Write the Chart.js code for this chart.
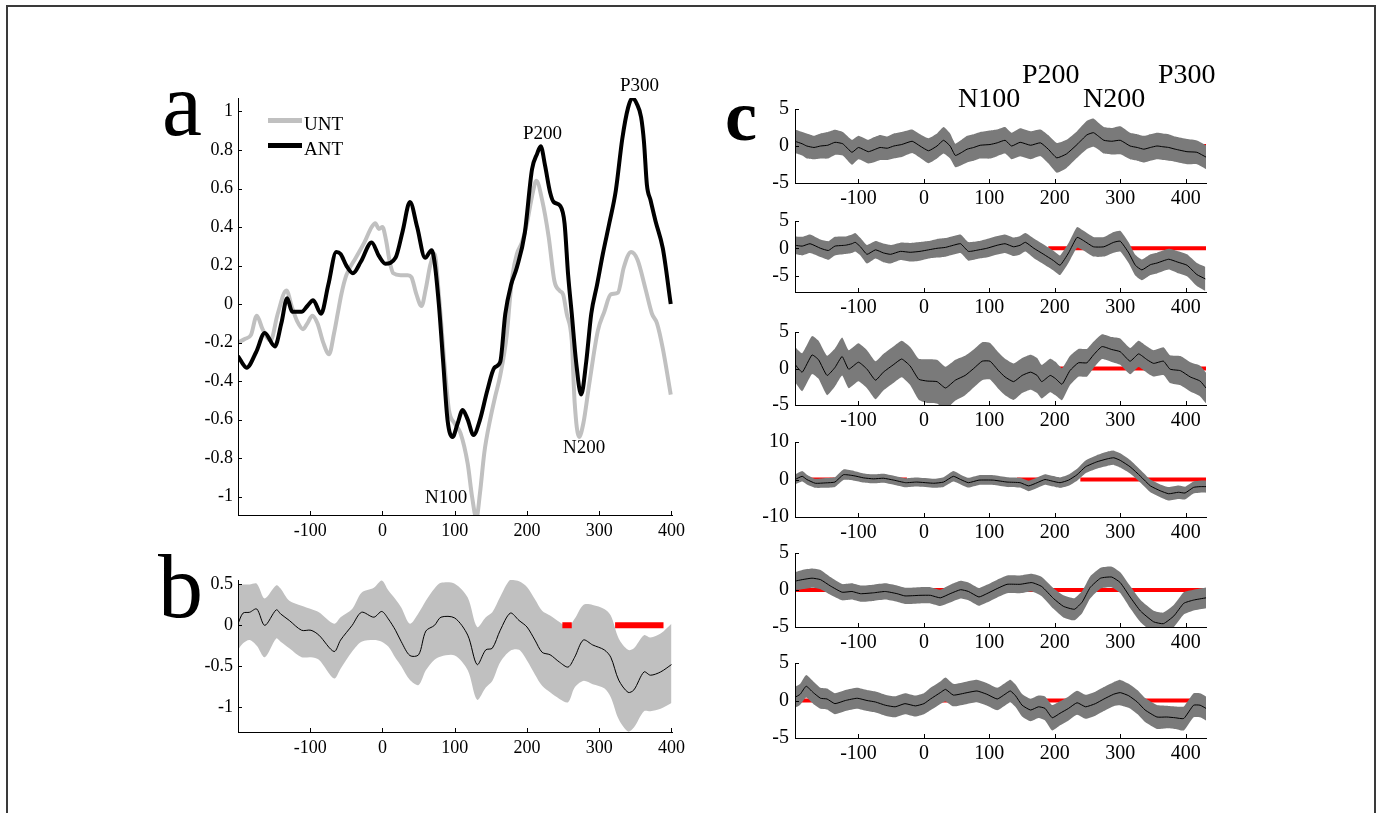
<!DOCTYPE html>
<html><head><meta charset="utf-8">
<script src="https://cdn.jsdelivr.net/npm/chart.js@4/dist/chart.umd.min.js"></script>
<style>
html,body{margin:0;padding:0;background:#fff;}
body{width:1382px;height:813px;overflow:hidden;position:relative;}
.t{position:absolute;line-height:1;white-space:nowrap;color:#000;font-family:"Liberation Serif","Times New Roman",serif;}
</style></head><body>
<div style="position:absolute;left:6px;top:5px;width:1366px;height:840px;border:2px solid #3a3a3a;"></div>
<script>
// ---------------- Panel a : UNT / ANT ----------------
const tUnt = [-200,-190,-182,-174,-166,-155,-145,-133,-125,-118,-110,-104,-97,-90,-82,-74,-67,-62,-57,-50,-37,-25,-15,-10,-5,0,5,10,15,25,35,40,47,54,60,66,72,78,86,92,100,108,118,124,130,135,141,149,156,163,172,177,180,186,193,200,207,213,221,230,238,245,250,255,262,266,272,278,286,298,307,316,326,334,344,353,364,373,380,388,399];
const unt = [-0.2,-0.18,-0.16,-0.06,-0.13,-0.19,-0.05,0.07,-0.02,-0.09,-0.13,-0.1,-0.06,-0.1,-0.2,-0.26,-0.15,-0.05,0.05,0.15,0.24,0.32,0.4,0.42,0.39,0.4,0.33,0.22,0.16,0.15,0.15,0.14,0.05,-0.01,0.08,0.2,0.26,0.05,-0.32,-0.55,-0.62,-0.67,-0.83,-1.0,-1.11,-0.98,-0.77,-0.6,-0.48,-0.37,-0.16,0.05,0.15,0.26,0.32,0.42,0.56,0.64,0.54,0.35,0.12,0.07,0.05,-0.05,-0.19,-0.51,-0.69,-0.62,-0.42,-0.14,-0.04,0.05,0.06,0.19,0.27,0.23,0.08,-0.05,-0.1,-0.23,-0.47];
const tAnt = [-200,-188,-175,-163,-149,-140,-132,-125,-112,-104,-96,-85,-75,-64,-58,-50,-41,-30,-15,-5,4,18,28,38,48,59,68,72,78,84,90,97,104,111,118,126,135,145,155,163,170,178,186,197,207,214,219,225,232,237,246,252,257,262,268,275,282,289,297,305,314,323,332,340,346,352,358,362,366,371,378,388,399];
const ant = [-0.27,-0.33,-0.25,-0.15,-0.22,-0.1,0.03,-0.04,-0.04,-0.01,0.02,-0.05,0.1,0.27,0.26,0.2,0.16,0.22,0.32,0.25,0.21,0.24,0.38,0.53,0.4,0.24,0.28,0.22,0.0,-0.3,-0.6,-0.69,-0.62,-0.55,-0.6,-0.68,-0.6,-0.45,-0.33,-0.3,-0.05,0.1,0.19,0.37,0.7,0.78,0.82,0.72,0.58,0.53,0.51,0.42,0.15,-0.05,-0.3,-0.47,-0.3,-0.05,0.1,0.26,0.42,0.59,0.86,1.02,1.07,1.04,0.97,0.84,0.62,0.54,0.43,0.29,0.0];
const aYTicks = [1,0.8,0.6,0.4,0.2,0,-0.2,-0.4,-0.6,-0.8,-1];
const abXTicks = [-100,0,100,200,300,400];

// ---------------- Panel b : difference with band ----------------
const tB = [-200,-193,-184,-174,-163,-147,-141,-129,-112,-99,-88,-67,-58,-42,-29,-12,-1,8,18,26,38,50,60,72,81,100,118,131,143,152,163,177,189,200,211,221,232,245,257,266,278,291,307,316,327,340,348,362,371,385,400];
const bMean = [0.02,0.15,0.16,0.2,0.0,0.19,0.14,0.06,-0.06,-0.06,-0.12,-0.32,-0.18,0.0,0.16,0.1,0.17,0.08,-0.06,-0.2,-0.37,-0.36,-0.07,0.0,0.1,0.09,-0.12,-0.48,-0.3,-0.28,-0.06,0.15,0.06,-0.02,-0.18,-0.33,-0.36,-0.45,-0.51,-0.39,-0.18,-0.24,-0.3,-0.39,-0.67,-0.82,-0.79,-0.57,-0.61,-0.57,-0.48];
const bUp = [0.49,0.5,0.5,0.51,0.33,0.49,0.45,0.3,0.24,0.2,0.16,0.02,0.1,0.2,0.4,0.46,0.55,0.43,0.32,0.22,0.02,0.15,0.3,0.45,0.52,0.51,0.34,-0.02,0.1,0.16,0.35,0.56,0.54,0.47,0.32,0.18,0.12,0.04,-0.02,0.08,0.25,0.25,0.2,0.12,-0.16,-0.3,-0.28,-0.12,-0.15,-0.1,0.02];
const bLo = [-0.3,-0.22,-0.18,-0.25,-0.39,-0.16,-0.2,-0.28,-0.39,-0.39,-0.42,-0.65,-0.53,-0.32,-0.2,-0.18,-0.2,-0.26,-0.4,-0.5,-0.67,-0.73,-0.55,-0.42,-0.38,-0.37,-0.55,-0.91,-0.76,-0.68,-0.45,-0.31,-0.3,-0.43,-0.6,-0.74,-0.82,-0.9,-0.94,-0.76,-0.68,-0.72,-0.77,-0.88,-1.15,-1.3,-1.25,-1.05,-1.05,-1.02,-0.95];
const bSig = [[249,262],[322,389]];
const bYTicks = [0.5,0,-0.5,-1];

// ---------------- Panel c : six channels ----------------
const cXTicks = [-100,0,100,200,300,400];
const c1T = [-197,-186,-179,-168,-158,-147,-136,-124,-110,-100,-85,-76,-67,-56,-46,-34,-18,-6,7,20,30,40,48,57,66,76,86,101,112,124,134,147,163,178,190,203,218,234,249,259,267,275,287,300,315,326,336,346,356,365,374,384,402,417,431];
const c1Mean = [0.64,0.3,0.0,-0.2,0.0,0.1,0.5,0.3,-0.85,-0.2,-0.77,-0.5,-0.2,-0.3,0.0,0.2,0.64,0.0,-0.64,0.0,0.77,0.0,-1.28,-0.9,-0.43,-0.2,0.1,0.2,0.43,0.77,0.0,0.5,0.1,0.43,-0.43,-1.6,-1.06,0.2,1.5,1.8,1.3,0.77,0.64,0.77,0.0,-0.2,-0.43,-0.2,0.0,-0.1,-0.2,-0.43,-0.77,-0.85,-1.5];
const c1Hw = [1.6,1.6,1.7,1.6,1.7,1.8,1.7,1.6,1.7,1.6,1.6,1.7,1.7,1.6,1.7,1.7,1.6,1.6,1.7,1.7,1.8,1.7,1.6,1.7,1.8,1.8,1.8,1.9,1.8,1.8,1.8,1.9,1.9,1.8,1.9,2.0,1.9,1.8,1.9,1.9,1.8,1.8,1.8,1.9,1.8,1.8,1.8,1.8,1.8,1.8,1.8,1.7,1.7,1.6,1.6];
const c1Sig = [[420,431]];

const c2T = [-197,-186,-174,-158,-146,-136,-120,-110,-105,-97,-87,-74,-62,-51,-36,-21,-6,7,20,33,45,56,68,84,96,112,124,137,147,155,168,183,198,208,221,234,244,259,275,290,300,313,323,333,346,356,374,387,402,417,430];
const c2Mean = [0.56,0.4,0.84,0,-0.4,0.4,0.56,0.84,1.1,0.28,-1.1,-0.28,-0.84,-1.1,-0.56,-0.73,-0.56,-0.28,0,0.17,0.56,0.84,-0.56,-0.28,0,0.56,0.84,0.28,0.56,1.1,0,-1.1,-2.25,-3.1,-0.84,2.0,1.4,0.28,0.28,1.1,1.3,-0.84,-3.1,-3.95,-3.0,-2.7,-2.0,-2.5,-3.1,-4.8,-5.6];
const c2Hw = [1.6,1.7,1.7,1.6,1.7,1.7,1.6,1.7,1.7,1.6,1.7,1.6,1.7,1.7,1.6,1.7,1.7,1.6,1.7,1.7,1.7,1.7,1.7,1.6,1.7,1.7,1.7,1.7,1.7,1.7,1.8,1.8,1.8,1.8,1.8,1.9,1.8,1.8,1.8,1.9,1.9,1.9,1.9,1.9,1.9,1.9,1.9,2.0,2.0,2.1,2.2];
const c2Sig = [[-112,-85],[190,431]];

const c3T = [-197,-186,-171,-161,-148,-136,-125,-115,-100,-87,-74,-62,-46,-34,-21,-8,5,20,33,48,63,76,89,101,114,124,137,150,163,173,180,193,201,211,223,236,249,259,272,287,300,315,328,341,351,366,376,392,407,422,431];
const c3Mean = [0.56,-0.5,1.85,1.2,-0.95,0.13,1.64,-0.09,0.86,-0.09,-1.6,-0.5,0.56,1.3,0.34,-1.47,-1.72,-1.8,-2.67,-1.6,-0.95,0,1.0,1.0,-0.3,-1.16,-1.8,-0.95,-0.5,-0.95,-1.8,-0.95,-1.38,-2.15,-0.3,0.78,0.78,1.85,3.0,2.6,2.3,1.0,2.0,1.2,0.7,1.0,-0.09,-0.3,-1.16,-1.72,-2.67];
const c3Hw = [2.4,2.6,2.6,2.6,2.7,2.6,2.6,2.6,2.6,2.6,2.6,2.5,2.5,2.5,2.6,2.8,3.0,3.0,2.9,2.8,2.7,2.6,2.6,2.5,2.5,2.5,2.5,2.4,2.4,2.4,2.3,2.3,2.3,2.2,2.0,1.9,1.9,1.8,1.7,1.7,1.8,1.8,1.8,1.8,1.8,1.9,1.9,2.0,2.0,2.1,2.1];
const c3Sig = [[206,431]];

const c4T = [-197,-186,-179,-166,-150,-136,-123,-107,-92,-77,-62,-46,-28,-11,15,30,45,56,68,84,106,127,147,160,173,185,196,208,221,234,247,264,280,290,300,315,331,346,361,374,389,399,412,422,431];
const c4Mean = [0,0.85,0,-1.0,-0.9,-0.68,1.28,1.0,0.43,0.17,0.34,-0.17,-0.85,-0.68,-1.0,-0.68,0.85,0,-0.85,-0.17,-0.17,-0.68,-0.85,-1.7,-0.85,0,-0.43,-0.85,-0.17,1.28,3.4,4.7,5.5,5.8,5.1,3.4,0.85,-1.7,-3.0,-3.8,-3.4,-3.6,-2.1,-1.9,-1.9];
const c4Hw = [1.3,1.4,1.3,1.2,1.3,1.3,1.4,1.3,1.2,1.2,1.2,1.2,1.2,1.2,1.2,1.3,1.4,1.3,1.3,1.3,1.3,1.3,1.3,1.4,1.4,1.4,1.4,1.4,1.5,1.6,1.7,1.8,1.9,1.9,1.9,1.8,1.7,1.7,1.7,1.8,1.8,1.7,1.6,1.6,1.6];
const c4Sig = [[-175,-136],[-92,-26],[142,201],[239,431]];

const c5T = [-197,-186,-171,-158,-143,-125,-110,-97,-77,-59,-41,-29,-6,10,25,40,56,68,84,96,112,127,147,165,180,198,213,230,242,254,270,287,300,315,331,351,366,382,397,412,431];
const c5Mean = [1.2,1.4,1.6,1.4,0.55,-0.3,-0.2,-0.5,-0.38,-0.2,-0.5,-0.8,-0.72,-0.72,-1.06,-0.5,0.04,-0.2,-0.94,-0.5,0.2,0.77,0.77,1.0,0.47,-1.15,-2.2,-2.6,-1.6,0.34,1.6,1.75,1.0,-0.94,-2.85,-4.3,-4.55,-3.5,-1.8,-1.36,-1.06];
const c5Hw = [1.2,1.3,1.3,1.3,1.2,1.1,1.1,1.1,1.1,1.1,1.1,1.1,1.1,1.1,1.1,1.2,1.2,1.2,1.2,1.2,1.2,1.2,1.2,1.2,1.3,1.4,1.5,1.5,1.5,1.5,1.4,1.4,1.4,1.5,1.5,1.5,1.5,1.5,1.5,1.4,1.4];
const c5Sig = [[-197,431]];

const c6T = [-197,-189,-180,-169,-158,-148,-136,-120,-102,-87,-74,-59,-44,-29,-13,0,10,25,33,45,66,81,96,112,124,132,140,150,163,175,185,196,208,221,234,247,262,275,290,300,313,326,338,356,371,384,397,412,422,431];
const c6Mean = [0.42,0.84,1.9,1.05,0.3,0.2,-0.42,0,0.3,0,-0.2,-0.63,-0.84,-0.42,-0.72,-0.42,0.2,1.05,1.48,0.72,1.05,1.27,0.84,0.2,0.84,1.27,0.63,-0.63,-1.27,-0.84,-1.05,-2.3,-1.7,-1.05,-0.3,-0.84,-0.42,0.2,0.84,1.05,0.63,-0.2,-1.27,-2.2,-2.2,-2.3,-2.4,-0.63,-0.63,-1.05];
const c6Hw = [1.4,1.4,1.5,1.5,1.4,1.4,1.4,1.4,1.4,1.4,1.4,1.4,1.4,1.4,1.4,1.4,1.5,1.5,1.6,1.5,1.5,1.5,1.5,1.5,1.5,1.5,1.5,1.5,1.5,1.5,1.6,1.7,1.6,1.6,1.6,1.6,1.6,1.6,1.6,1.7,1.6,1.6,1.6,1.6,1.5,1.5,1.6,1.6,1.6,1.6];
const c6Sig = [[-197,-170],[-40,40],[170,431]];

// ---------------- helpers ----------------
const SERIF = '"Liberation Serif","Times New Roman",serif';
Chart.defaults.font.family = SERIF;
Chart.defaults.color = '#000';

function pts(xs, ys){ return xs.map((x,i)=>({x:x, y:ys[i]})); }
function segPts(segs){ const o=[]; segs.forEach(s=>{o.push({x:s[0],y:0},{x:s[1],y:0},{x:s[1],y:null});}); return o; }

const inTicks = {
  id:'inTicks',
  afterDatasetsDraw(chart, args, opts){
    const ctx = chart.ctx, a = chart.chartArea, len = opts.len || 4;
    const xs = chart.scales.x, ys = chart.scales.y;
    ctx.save(); ctx.strokeStyle = '#000'; ctx.lineWidth = 1;
    xs.ticks.forEach(t=>{ const p = Math.round(xs.getPixelForValue(t.value)) + 0.5;
      ctx.beginPath(); ctx.moveTo(p, a.bottom); ctx.lineTo(p, a.bottom - len); ctx.stroke(); });
    ys.ticks.forEach(t=>{ const p = Math.round(ys.getPixelForValue(t.value)) + 0.5;
      ctx.beginPath(); ctx.moveTo(a.left, p); ctx.lineTo(a.left + len, p); ctx.stroke(); });
    // redraw axis lines on top
    ctx.beginPath(); ctx.moveTo(a.left+0.5, a.top); ctx.lineTo(a.left+0.5, a.bottom+0.5); ctx.lineTo(a.right, a.bottom+0.5); ctx.stroke();
    ctx.restore();
  }
};

function mkCanvas(x,y,w,h){
  const c = document.createElement('canvas'); c.width = w; c.height = h;
  c.style.cssText = `position:absolute;left:${x}px;top:${y}px;width:${w}px;height:${h}px;`;
  document.body.appendChild(c); return c;
}

function makePanel(g){
  const canvas = mkCanvas(g.cx, g.cy, g.cw, g.ch);
  return new Chart(canvas, {
    type:'line',
    data:{datasets:g.datasets},
    options:{
      responsive:false, animation:false, events:[],
      layout:{autoPadding:false, padding:{left:0, top:g.T-g.cy, right:g.cx+g.cw-g.R, bottom:0}},
      plugins:{legend:{display:false}, tooltip:{enabled:false}, inTicks:{len:g.tickLen||4}},
      elements:{point:{radius:0}, line:{borderJoinStyle:'round'}},
      scales:{
        x:{type:'linear', min:g.xmin, max:g.xmax,
          afterFit:s=>{ s.height = g.cy + g.ch - g.B; },
          afterBuildTicks:s=>{ s.ticks = g.xticks.map(v=>({value:v})); },
          grid:{display:false, drawTicks:false}, border:{display:true, color:'#000', width:1},
          ticks:{font:g.font, color:'#000', padding:g.xPad, autoSkip:false, maxRotation:0, callback:v=>String(v)}},
        y:{type:'linear', min:g.ymin, max:g.ymax,
          afterFit:s=>{ s.width = g.L - g.cx; },
          afterBuildTicks:s=>{ s.ticks = g.yticks.slice().sort((a,b)=>a-b).map(v=>({value:v})); },
          grid:{display:false, drawTicks:false}, border:{display:true, color:'#000', width:1},
          ticks:{font:g.font, color:'#000', padding:g.yPad, callback:v=>String(v)}}
      }
    },
    plugins:[inTicks]
  });
}

function text(str, left, baseline, size, weight){
  const d = document.createElement('div'); d.className = 't'; d.textContent = str;
  d.style.left = left + 'px'; d.style.top = (baseline - 0.8375*size) + 'px';
  d.style.fontSize = size + 'px'; d.style.fontWeight = weight || 'normal';
  document.body.appendChild(d); return d;
}

// ---------------- Panel a ----------------
makePanel({cx:150, cy:70, cw:540, ch:490, L:238, T:98, R:676, B:515,
  xmin:-200, xmax:402, ymin:-1.095, ymax:1.07, xticks:abXTicks, yticks:aYTicks,
  font:{size:18, family:SERIF}, xPad:5, yPad:5,
  datasets:[
    {label:'ANT', data:pts(tAnt, ant), borderColor:'#000', borderWidth:4, cubicInterpolationMode:'monotone', order:0},
    {label:'UNT', data:pts(tUnt, unt), borderColor:'#c0c0c0', borderWidth:4, cubicInterpolationMode:'monotone', order:1}
  ]});

// ---------------- Panel b ----------------
makePanel({cx:150, cy:560, cw:540, ch:205, L:238, T:580, R:676, B:732,
  xmin:-200, xmax:402, ymin:-1.305, ymax:0.555, xticks:abXTicks, yticks:bYTicks,
  font:{size:18, family:SERIF}, xPad:5, yPad:5,
  datasets:[
    {label:'sig', data:segPts(bSig), borderColor:'#ff0000', borderWidth:6, spanGaps:false, order:-1},
    {label:'mean', data:pts(tB, bMean), borderColor:'#000', borderWidth:1, tension:0.3, order:0},
    {label:'upper', data:pts(tB, bUp), borderColor:'rgba(0,0,0,0)', borderWidth:0, backgroundColor:'#c0c0c0', fill:'+1', tension:0.3, order:1},
    {label:'lower', data:pts(tB, bLo), borderColor:'rgba(0,0,0,0)', borderWidth:0, tension:0.3, order:2}
  ]});

// ---------------- Panel c ----------------
const cPanels = [
  {T:105, B:183, ymin:-5, ymax:5, yt:[5,0,-5], t:c1T, m:c1Mean, h:c1Hw, s:c1Sig},
  {T:217, B:292, ymin:-8, ymax:5, yt:[5,0,-5], t:c2T, m:c2Mean, h:c2Hw, s:c2Sig},
  {T:328, B:405, ymin:-5, ymax:5, yt:[5,0,-5], t:c3T, m:c3Mean, h:c3Hw, s:c3Sig},
  {T:438, B:517, ymin:-10, ymax:10, yt:[10,0,-10], t:c4T, m:c4Mean, h:c4Hw, s:c4Sig},
  {T:549, B:627, ymin:-5, ymax:5, yt:[5,0,-5], t:c5T, m:c5Mean, h:c5Hw, s:c5Sig},
  {T:659, B:738, ymin:-5, ymax:5, yt:[5,0,-5], t:c6T, m:c6Mean, h:c6Hw, s:c6Sig}
];
cPanels.forEach(p=>{
  const up = p.m.map((v,i)=>v + p.h[i]);
  const lo = p.m.map((v,i)=>v - p.h[i]);
  makePanel({cx:740, cy:p.T-14, cw:480, ch:(p.B+26)-(p.T-14), L:795, T:p.T, R:1206, B:p.B,
    xmin:-197, xmax:431, ymin:p.ymin, ymax:p.ymax, xticks:cXTicks, yticks:p.yt,
    font:{size:20, family:SERIF}, xPad:4, yPad:6,
    datasets:[
      {label:'mean', data:pts(p.t, p.m), borderColor:'#000', borderWidth:1, tension:0.15, order:0},
      {label:'upper', data:pts(p.t, up), borderColor:'rgba(0,0,0,0)', borderWidth:0, backgroundColor:'#7a7a7a', fill:'+1', tension:0.15, order:1},
      {label:'lower', data:pts(p.t, lo), borderColor:'rgba(0,0,0,0)', borderWidth:0, tension:0.15, order:2},
      {label:'sig', data:segPts(p.s), borderColor:'#ff0000', borderWidth:4, spanGaps:false, order:3}
    ]});
});

// ---------------- Text ----------------
text('a', 162, 135, 90);
text('b', 158, 617, 90);
text('c', 725, 140, 72, 'bold');
// legend
(function(){
  const g = document.createElement('div'); g.style.cssText = 'position:absolute;left:268px;top:118px;width:34px;height:5px;background:#c0c0c0;'; document.body.appendChild(g);
  const k = document.createElement('div'); k.style.cssText = 'position:absolute;left:268px;top:143px;width:34px;height:5px;background:#000;'; document.body.appendChild(k);
})();
text('UNT', 304, 130, 19);
text('ANT', 304, 155, 19);
// panel a annotations
text('P300', 620, 91, 19);
text('P200', 523, 139, 19);
text('N200', 563, 453, 19);
text('N100', 425, 503, 19);
// panel c annotations
text('N100', 958, 107, 28);
text('P200', 1022, 83, 28);
text('N200', 1083, 107, 28);
text('P300', 1158, 83, 28);
</script>
</body></html>
